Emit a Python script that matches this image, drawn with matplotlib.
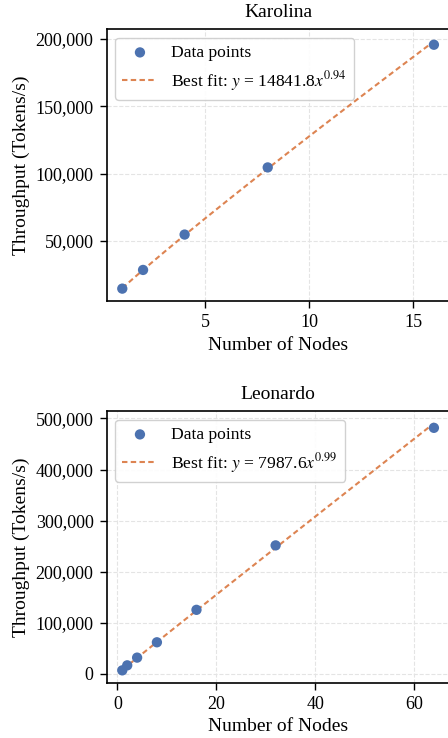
import numpy as np
import matplotlib.pyplot as plt
from matplotlib.ticker import FuncFormatter

# Karolina scaling measurements
karolina_nodes = [1, 2, 4, 8, 16]
karolina_tput = [14500, 28400, 54700, 104600, 195800]
karolina_fit = (14841.8, 0.935)
karolina_label = r"Best fit: $y$ = 14841.8$x^{0.94}$"

# Leonardo scaling measurements
leonardo_nodes = [1, 2, 4, 8, 16, 32, 64]
leonardo_tput = [7100, 16900, 32000, 62000, 125500, 251600, 481600]
leonardo_fit = (7987.6, 0.99)
leonardo_label = r"Best fit: $y$ = 7987.6$x^{0.99}$"

plt.rcParams['font.family'] = ['Liberation Serif', 'DejaVu Serif']
plt.rcParams['mathtext.fontset'] = 'stix'

blue = '#4C72B0'
orange = '#DD8452'


def plot_panel(ax, nodes, tput, fit, label, title):
    nodes = np.array(nodes)
    xs = np.linspace(nodes.min(), nodes.max(), 200)
    ax.scatter(nodes, tput, s=55, color=blue, edgecolor='none', zorder=3, label="Data points")
    ax.plot(xs, fit[0] * xs ** fit[1], color=orange, lw=1.5, dashes=(2.6, 1.6), label=label, zorder=2)
    ax.set_title(title, fontsize=14, pad=8.5)
    ax.set_xlabel("Number of Nodes", fontsize=14, labelpad=4)
    ax.set_ylabel("Throughput (Tokens/s)", fontsize=14, labelpad=4)
    ax.yaxis.set_major_formatter(FuncFormatter(lambda v, p: f"{int(v):,}"))
    ax.tick_params(labelsize=13, length=5, width=1, pad=4.5)
    ax.grid(True, ls='--', color='#e4e4e4', lw=0.8)
    ax.set_axisbelow(True)
    for s in ax.spines.values():
        s.set_linewidth(1.2)
    leg = ax.legend(loc='upper left', fontsize=12.6, frameon=True, fancybox=True,
                    edgecolor='#cccccc', framealpha=0.9, borderpad=0.4,
                    handlelength=2.0, labelspacing=0.45)
    leg.get_frame().set_linewidth(1.0)


fig = plt.figure(figsize=(4.48, 7.38), dpi=100)
W, H = 448.0, 738.0
ax1 = fig.add_axes([106.7 / W, 1 - 301 / H, (449.5 - 106.7) / W, (301 - 29) / H])
ax2 = fig.add_axes([106.7 / W, 1 - 682.7 / H, (449.5 - 106.7) / W, (682.7 - 411) / H])

plot_panel(ax1, karolina_nodes, karolina_tput, karolina_fit, karolina_label, "Karolina")
plot_panel(ax2, leonardo_nodes, leonardo_tput, leonardo_fit, leonardo_label, "Leonardo")

fig.savefig("out.png", dpi=100)
